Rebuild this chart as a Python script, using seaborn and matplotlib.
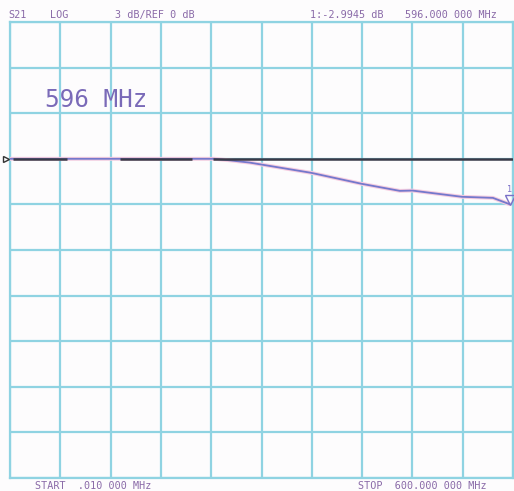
import matplotlib
matplotlib.use("Agg")
import matplotlib.pyplot as plt
import seaborn as sns
import numpy as np
import pandas as pd

# ---- data ----
freq_mhz = [0.01, 60, 120, 180, 244, 262, 286, 359, 419, 465, 480, 539, 576, 596]
s21_db = [0.0, 0.0, 0.0, 0.0, 0.0, -0.1, -0.25, -0.92, -1.64, -2.11, -2.09, -2.50, -2.57, -2.99]
ref_segments_start = [3.6, 131, 242]
ref_segments_end = [68, 217, 600]
ref_level_db = 0.0
header_labels = ["S21", "LOG", "3 dB/REF 0 dB", "1:-2.9945 dB", "596.000 000 MHz"]
footer_labels = ["START  .010 000 MHz", "STOP  600.000 000 MHz"]
marker_label = "596 MHz"

df = pd.DataFrame({"freq": freq_mhz, "s21": s21_db})

sns.set_theme(style="white")
plt.rcParams['font.family'] = ['DejaVu Sans Mono', 'DejaVu Sans']

fig = plt.figure(figsize=(5.14, 4.91), dpi=100)
fig.patch.set_facecolor("#fdfcfd")
ax = fig.add_axes([10/514, 13/491, 503/514, 456/491])
ax.set_facecolor("#fdfcfd")

grid_c = "#8fd3e2"
ax.set_xlim(0, 600)
ax.set_ylim(-21, 9)
ax.set_xticks(np.arange(0, 601, 60))
ax.set_yticks(np.arange(-21, 10, 3))
ax.grid(True, color=grid_c, linewidth=1.6)
ax.tick_params(length=0, labelbottom=False, labelleft=False)
for s in ax.spines.values():
    s.set_color(grid_c)
    s.set_linewidth(1.6)

# trace (pink halo + blue-purple)
sns.lineplot(data=df, x="freq", y="s21", ax=ax, color="#f6cde0", linewidth=2.8, zorder=3)
sns.lineplot(data=df, x="freq", y="s21", ax=ax, color="#7478cc", linewidth=1.3, zorder=4)
ax.hlines([ref_level_db]*len(ref_segments_start), ref_segments_start, ref_segments_end,
          color="#3a3a48", linewidth=1.8, zorder=5)
ax.set_xlabel("")
ax.set_ylabel("")

# reference marker at left
ax.plot([-4.5], [ref_level_db], marker=">", markersize=5, markerfacecolor="none",
        markeredgecolor="#333333", clip_on=False, zorder=6)
# marker 1 at end
ax.plot([freq_mhz[-1]], [s21_db[-1] + 0.25], marker="v", markersize=7, markerfacecolor="none",
        markeredgecolor="#7a70c8", clip_on=False, zorder=6)
ax.text(freq_mhz[-1], s21_db[-1] + 1.0, "1", color="#7a70c8", fontsize=6, ha="center", va="center",
        clip_on=False, zorder=6)

txt_c = "#8a6aa8"
ax.text(0.07, 0.829, marker_label, transform=ax.transAxes, fontsize=17.5, color="#7a6ab8",
        ha="left", va="center")

hx = [8, 50, 115, 310, 405]
for x, lab in zip(hx, header_labels):
    fig.text(x/514, 1 - 15/491, lab, fontsize=7.3, color=txt_c, ha="left", va="center")
fig.text(35/514, 1 - 486/491, footer_labels[0], fontsize=7.3, color=txt_c, ha="left", va="center")
fig.text(358/514, 1 - 486/491, footer_labels[1], fontsize=7.3, color=txt_c, ha="left", va="center")

fig.savefig("out.png", dpi=100, facecolor=fig.get_facecolor())
